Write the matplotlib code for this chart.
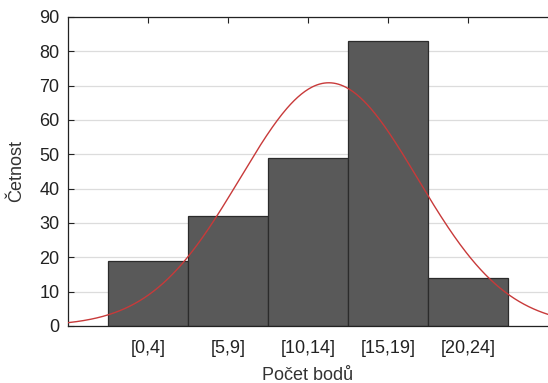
import numpy as np
import matplotlib.pyplot as plt

# data
categories = ["[0,4]", "[5,9]", "[10,14]", "[15,19]", "[20,24]"]
counts = [19, 32, 49, 83, 14]
bin_width = 5
mean_pts = 13.3
sd_pts = 5.55

plt.rcParams['font.family'] = ['Liberation Sans', 'DejaVu Sans']

fig = plt.figure(figsize=(5.48, 3.83), dpi=100)
ax = fig.add_axes([0.124, 0.149, 0.876, 0.807])

pos = np.arange(len(categories))
ax.bar(pos, counts, width=1.0, color="#595959", edgecolor="#2b2b2b",
       linewidth=0.9, zorder=2)

# fitted normal curve (in points, then mapped to category position)
pts = np.linspace(-3, 27, 400)
n = sum(counts)
dens = n * bin_width / (np.sqrt(2 * np.pi) * sd_pts) * np.exp(-0.5 * ((pts - mean_pts) / sd_pts) ** 2)
ax.plot((pts - 2) / bin_width, dens, color="#c83a3a", linewidth=1.0, zorder=3)

ax.set_xlim(-1, 5)
ax.set_ylim(0, 90)
ax.set_yticks(range(0, 91, 10))
ax.set_xticks(pos)
ax.set_xticklabels(categories)
ax.yaxis.grid(True, color="#dcdcdc", linewidth=0.9, zorder=0)
ax.set_axisbelow(True)

ax.tick_params(axis="both", direction="in", labelsize=13, colors="#222222",
               length=4, width=0.8)
ax.tick_params(axis="x", top=True, pad=10)
ax.tick_params(axis="y", pad=6)
ax.spines["right"].set_visible(False)
for s in ["left", "top", "bottom"]:
    ax.spines[s].set_linewidth(0.9)
    ax.spines[s].set_color("#222222")

ax.set_xlabel("Počet bodů", fontsize=13, color="#333333", labelpad=7)
ax.set_ylabel("Četnost", fontsize=13, color="#333333", labelpad=10)

fig.savefig("out.png", dpi=100)
